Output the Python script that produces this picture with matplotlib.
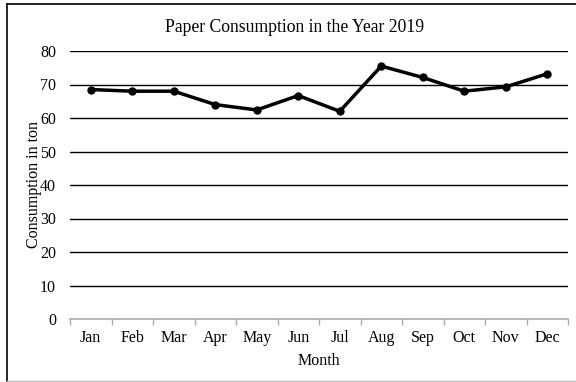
import numpy as np
import matplotlib.pyplot as plt
from matplotlib.lines import Line2D

plt.rcParams['font.family'] = ['Liberation Serif', 'DejaVu Serif']

months = ['Jan', 'Feb', 'Mar', 'Apr', 'May', 'Jun', 'Jul', 'Aug', 'Sep', 'Oct', 'Nov', 'Dec']
consumption = [68.5, 68.0, 68.0, 64.0, 62.4, 66.7, 62.0, 75.5, 72.1, 68.0, 69.3, 73.2]
y_ticks = [0, 10, 20, 30, 40, 50, 60, 70, 80]

fig = plt.figure(figsize=(5.76, 3.82), dpi=100)
ax = fig.add_axes([70/576, 1 - 319/382, 498/576, 268/382])

x = np.arange(len(months))
ax.plot(x, consumption, color='black', linewidth=2.5, marker='o', markersize=5, zorder=3)

ax.set_xlim(-0.5, len(months) - 0.5)
ax.set_ylim(0, 80)
ax.set_yticks(y_ticks)
for t in y_ticks[1:]:
    ax.axhline(t, color='black', linewidth=1, zorder=1)

# category ticks between the months
ax.set_xticks(np.arange(-0.5, len(months), 1))
ax.set_xticklabels([])
ax.set_xticks(x, minor=True)
ax.set_xticklabels(months, minor=True, fontsize=11.5)
ax.tick_params(axis='x', which='major', direction='out', length=4, color='#aaaaaa', width=1)
ax.tick_params(axis='x', which='minor', length=0, pad=8)
ax.tick_params(axis='y', length=0, labelsize=11.5, pad=10)

for s in ['top', 'right', 'left']:
    ax.spines[s].set_visible(False)
ax.spines['bottom'].set_color('#aaaaaa')
ax.spines['bottom'].set_linewidth(1.2)

ax.set_xlabel('Month', fontsize=11.5, labelpad=5)
ax.set_ylabel('Consumption in ton', fontsize=11.5, labelpad=-1)
fig.text(295/576, 1 - 27/382, 'Paper Consumption in the Year 2019', fontsize=12.7,
         ha='center', va='center')

# frame of the chart area
fig.add_artist(Line2D([7/576, 7/576], [1 - 381/382, 1 - 4/382], color='black', linewidth=1.2))
fig.add_artist(Line2D([7/576, 1], [1 - 4/382, 1 - 4/382], color='black', linewidth=1.2))
fig.add_artist(Line2D([7/576, 1], [1 - 381/382, 1 - 381/382], color='#bbbbbb', linewidth=1))

fig.savefig('out.png', dpi=100)
